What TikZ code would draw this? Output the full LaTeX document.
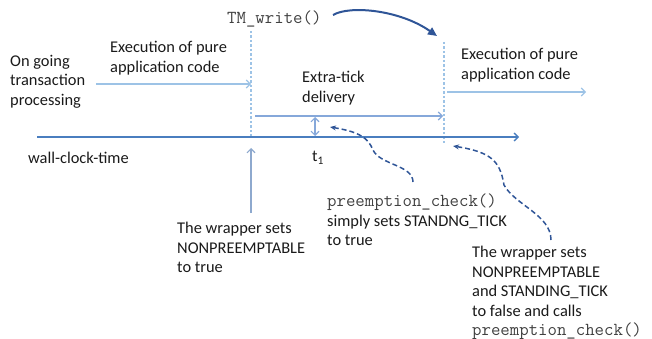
\documentclass[tikz,border=0pt]{standalone}
\usepackage{fontspec}
\setmainfont{Carlito}
\usetikzlibrary{arrows.meta}
\definecolor{lightln}{HTML}{9DC3E6}
\definecolor{midln}{HTML}{86A8DA}
\definecolor{axisln}{HTML}{4A7EBF}
\definecolor{darkln}{HTML}{2F5597}
\definecolor{upln}{HTML}{8EA9CE}
\definecolor{txt}{HTML}{1A1A1A}
\definecolor{codetxt}{HTML}{404040}
\newcommand{\codefont}{\fontsize{18.3}{19.5}\selectfont\ttfamily\color{codetxt}}
\tikzset{
  lbl/.style={inner sep=0pt, text=txt, align=left, anchor=north west, font=\fontsize{16.4}{19.5}\selectfont},
  code/.style={inner sep=0pt, anchor=west, font=\codefont},
  barb/.style={-{Straight Barb[length=4pt,width=8pt]}},
  dbarb/.style={{Straight Barb[length=4pt,width=8pt]}-{Straight Barb[length=4pt,width=8pt]}},
  flow/.style={barb, draw=lightln, line width=1.1pt},
  guide/.style={draw=lightln, line width=1.2pt, dash pattern=on 2.5pt off 2pt},
  note/.style={draw=darkln, line width=1.5pt, dash pattern=on 5pt off 3pt, -{Stealth[length=6pt,width=5pt]}},
}
\begin{document}
\begin{tikzpicture}[x=1pt,y=-1pt]
\useasboundingbox (0,0) rectangle (652,339);

% texts
\node[code] (tmw) at (227,19) {TM\_write()};
\node[lbl] (ongoing) at (10,55) {On going\\transaction\\processing};
\node[lbl] (exec1) at (110,41) {Execution of pure\\application code};
\node[lbl] (extra) at (302,71) {Extra-tick\\delivery};
\node[lbl] (exec2) at (461,48) {Execution of pure\\application code};
\node[lbl, anchor=west] (wall) at (28,158) {wall-clock-time};
\node[lbl, anchor=west] (t1) at (312,158) {t\textsubscript{1}};
\node[lbl] (wrap1) at (177,222) {The wrapper sets\\NONPREEMPTABLE\\to true};
\node[lbl] (pc) at (327,194) {{\codefont preemption\_check()}\\simply sets STANDNG\_TICK\\to true};
\node[lbl] (wrap2) at (472,246) {The wrapper sets\\NONPREEMPTABLE\\and STANDING\_TICK\\to false and calls\\{\codefont preemption\_check()}};

% coordinates
\coordinate (axL) at (37,137);
\coordinate (axR) at (519,137);
\coordinate (v1top) at (251,31);
\coordinate (v1bot) at (251,138);
\coordinate (v2top) at (444,42);
\coordinate (v2bot) at (444,143);
\coordinate (e1s) at (96,84);
\coordinate (e1e) at (251,84);
\coordinate (xs) at (255,116);
\coordinate (xe) at (443,116);
\coordinate (e2s) at (447,92);
\coordinate (e2e) at (586,92);
\coordinate (dt) at (315,117);
\coordinate (db) at (315,136);
\coordinate (us) at (251,213);
\coordinate (ue) at (251,148);
\coordinate (c1s) at (413,182);
\coordinate (c1e) at (330,127);
\coordinate (c2s) at (551,240);
\coordinate (c2e) at (453,146);
\coordinate (ts) at (333,15);
\coordinate (te) at (437,36);

% guides
\draw[guide] (v1top) -- (v1bot);
\draw[guide] (v2top) -- (v2bot);

% axis
\draw[barb, draw=axisln, line width=1.4pt] (axL) -- (axR);

% flows
\draw[flow] (e1s) -- (e1e);
\draw[flow] (e2s) -- (e2e);
\draw[barb, draw=midln, line width=1.1pt] (xs) -- (xe);
\draw[dbarb, draw=midln, line width=1.1pt] (dt) -- (db);
\draw[barb, draw=upln, line width=1.1pt] (us) -- (ue);

% dashed notes
\draw[note] (c1s) .. controls (413,165) and (380,165) .. (373,150)
  .. controls (368,138) and (360,132) .. (c1e);
\draw[note] (c2s) .. controls (551,215) and (515,205) .. (504,185)
  .. controls (500,160) and (490,152) .. (c2e);

% top curved arrow
\draw[draw=darkln, line width=2pt, -{Triangle[length=9pt,width=8pt]}] (ts) .. controls (350,5) and (400,10) .. (te);
\end{tikzpicture}
\end{document}
